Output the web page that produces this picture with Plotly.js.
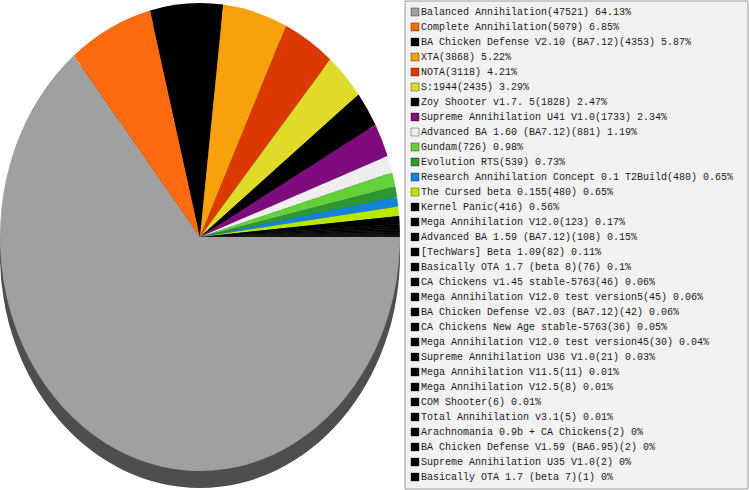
<!DOCTYPE html>
<html>
<head>
<meta charset="utf-8">
<script src="https://cdn.plot.ly/plotly-3.0.1.min.js"></script>
<style>html,body{margin:0;padding:0;background:#fff;}#chart{width:749px;height:490px;}</style>
</head>
<body>
<div id="chart"></div>
<script>
// ---- data ----
const names = [
  "Balanced Annihilation", "Complete Annihilation", "BA Chicken Defense V2.10 (BA7.12)", "XTA", "NOTA",
  "S:1944", "Zoy Shooter v1.7. 5", "Supreme Annihilation U41 V1.0", "Advanced BA 1.60 (BA7.12)", "Gundam",
  "Evolution RTS", "Research Annihilation Concept 0.1 T2Build", "The Cursed beta 0.155", "Kernel Panic",
  "Mega Annihilation V12.0", "Advanced BA 1.59 (BA7.12)", "[TechWars] Beta 1.09", "Basically OTA 1.7 (beta 8)",
  "CA Chickens v1.45 stable-5763", "Mega Annihilation V12.0 test version5", "BA Chicken Defense V2.03 (BA7.12)",
  "CA Chickens New Age stable-5763", "Mega Annihilation V12.0 test version45", "Supreme Annihilation U36 V1.0",
  "Mega Annihilation V11.5", "Mega Annihilation V12.5", "COM Shooter", "Total Annihilation v3.1",
  "Arachnomania 0.9b + CA Chickens", "BA Chicken Defense V1.59 (BA6.95)", "Supreme Annihilation U35 V1.0",
  "Basically OTA 1.7 (beta 7)"
];
const counts = [47521, 5079, 4353, 3868, 3118, 2435, 1828, 1733, 881, 726, 539, 480, 480, 416,
  123, 108, 82, 76, 46, 45, 42, 36, 30, 21, 11, 8, 6, 5, 2, 2, 2, 1];
const percents = ["64.13", "6.85", "5.87", "5.22", "4.21", "3.29", "2.47", "2.34", "1.19", "0.98",
  "0.73", "0.65", "0.65", "0.56", "0.17", "0.15", "0.11", "0.1", "0.06", "0.06", "0.06", "0.05",
  "0.04", "0.03", "0.01", "0.01", "0.01", "0.01", "0", "0", "0", "0"];
const colors = ["#a0a0a0", "#fd6a10", "#000000", "#f9a10a", "#dc3900", "#dfdb28", "#000000", "#7e0c7e",
  "#eeeeee", "#63d13a", "#2e9633", "#1283d8", "#b9e600"];
const otherColor = "#000000";

// ---- layout constants ----
const W = 749, H = 490;
const CX = 200, CY = 237, RX = 200, RY = 234, SHADOW = 17;
const sy = RY / RX;
const LEG = {x0: 405, y0: 1, x1: 748, y1: 489, firstRow: 12, rowGap: 15, markX: 415, textX: 421};

const sliceColors = names.map((n, i) => i < colors.length ? colors[i] : otherColor);
const labels = names.map((n, i) => n + "(" + counts[i] + ") " + percents[i] + "%");

function dom(cyPx) {
  return {
    x: [(CX - RX) / W, (CX + RX) / W],
    y: [1 - (cyPx + RX) / H, 1 - (cyPx - RX) / H]
  };
}
const shadowCY = CY + SHADOW / sy;

const shadow = {
  type: "pie", values: [1], labels: ["shadow"], domain: dom(shadowCY),
  marker: {colors: ["#4e4e4e"], line: {width: 0}}, textinfo: "none",
  showlegend: false, hoverinfo: "skip", sort: false
};
const pie = {
  type: "pie", values: counts, labels: names, domain: dom(CY),
  marker: {colors: sliceColors, line: {width: 0}}, textinfo: "none",
  sort: false, direction: "clockwise", rotation: 90, showlegend: false, hoverinfo: "skip"
};
const idx = names.map((n, i) => i);
const legMarks = {
  type: "scatter", mode: "markers", xaxis: "x", yaxis: "y",
  x: idx.map(() => LEG.markX), y: idx,
  marker: {symbol: "square", size: 8, color: sliceColors, line: {width: 1, color: "rgba(0,0,0,0.35)"}},
  showlegend: false, hoverinfo: "skip", cliponaxis: false
};
const legText = {
  type: "scatter", mode: "text", xaxis: "x", yaxis: "y",
  x: idx.map(() => LEG.textX), y: idx, text: labels, textposition: "middle right",
  textfont: {family: "Liberation Mono, DejaVu Sans Mono, monospace", size: 10, color: "#1a1a1a"},
  showlegend: false, hoverinfo: "skip", cliponaxis: false
};

const yMin = -LEG.firstRow / LEG.rowGap;
const yMax = (H - LEG.firstRow) / LEG.rowGap;
const layout = {
  width: W, height: H, margin: {l: 0, r: 0, t: 0, b: 0},
  paper_bgcolor: "#ffffff", plot_bgcolor: "rgba(0,0,0,0)",
  hovermode: false, showlegend: false,
  xaxis: {domain: [0, 1], range: [0, W], visible: false, fixedrange: true},
  yaxis: {domain: [0, 1], range: [yMax, yMin], visible: false, fixedrange: true},
  shapes: [{
    type: "rect", xref: "paper", yref: "paper", layer: "below",
    x0: LEG.x0 / W, x1: LEG.x1 / W, y0: 1 - LEG.y1 / H, y1: 1 - LEG.y0 / H,
    fillcolor: "#f2f2f2", line: {color: "#9a9a9a", width: 1}
  }]
};

Plotly.newPlot("chart", [legMarks, legText, shadow, pie], layout, {staticPlot: true, displayModeBar: false})
  .then(gd => {
    const pl = gd.querySelector(".pielayer");
    if (pl) pl.setAttribute("transform", "translate(0," + CY + ") scale(1," + sy + ") translate(0," + (-CY) + ")");
  });
</script>
</body>
</html>
